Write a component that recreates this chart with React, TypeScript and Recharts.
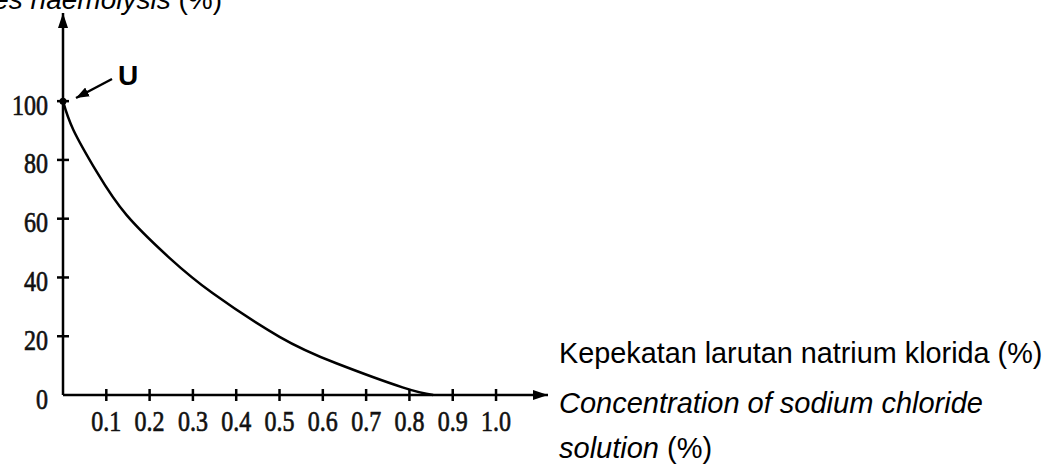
import React from "react";
import { LineChart, Line, XAxis, YAxis, ReferenceDot } from "recharts";

// values (x in %, y in %)
const concentration = [0, 0.024, 0.078, 0.147, 0.247, 0.346, 0.5, 0.631, 0.784, 0.855];
const haemolysis = [100, 90.2, 75.9, 61.2, 46.5, 34.6, 19.8, 10.8, 2.6, 0];

const xTicks = [0.1, 0.2, 0.3, 0.4, 0.5, 0.6, 0.7, 0.8, 0.9, 1.0];
const yTicks = [0, 20, 40, 60, 80, 100];

const data = concentration.map((x, i) => ({ x, y: haemolysis[i] }));

const serif = "'Liberation Serif', 'Times New Roman', serif";
const sans = "'Liberation Sans', Arial, sans-serif";

function YTick(props: any) {
  const { x, y, payload } = props;
  return (
    <g>
      {payload.value !== 0 && <line x1={x - 6} x2={x + 6} y1={y} y2={y} stroke="#000" strokeWidth={2.5} />}
      <text
        transform={`translate(${x - 15},${y + 3}) scale(0.8,1)`}
        dy="0.35em"
        textAnchor="end"
        fontSize={30}
        fontFamily={serif}
        fill="#111"
        stroke="#111"
        strokeWidth={0.7}
      >
        {payload.value}
      </text>
    </g>
  );
}

function XTick(props: any) {
  const { x, y, payload } = props;
  return (
    <g>
      <line x1={x} x2={x} y1={y - 6} y2={y + 6} stroke="#000" strokeWidth={2.5} />
      <text
        transform={`translate(${x},${y + 36}) scale(0.8,1)`}
        textAnchor="middle"
        fontSize={30}
        fontFamily={serif}
        fill="#111"
        stroke="#111"
        strokeWidth={0.7}
      >
        {payload.value.toFixed(1)}
      </text>
    </g>
  );
}

export default function App() {
  return (
    <div style={{ position: "absolute", left: 0, top: 0, width: 1051, height: 466, background: "#fff" }}>
      <svg width={0} height={0} style={{ position: "absolute" }}>
        <defs>
          <marker id="axisArrow" markerUnits="userSpaceOnUse" markerWidth={16} markerHeight={10} refX={15} refY={5} orient="auto-start-reverse">
            <path d="M0,0 L15,5 L0,10 z" fill="#000" />
          </marker>
          <marker id="uArrow" markerUnits="userSpaceOnUse" markerWidth={14} markerHeight={10} refX={13} refY={5} orient="auto">
            <path d="M0,0 L13,5 L0,10 z" fill="#000" />
          </marker>
        </defs>
      </svg>

      <LineChart width={1051} height={466} data={data} margin={{ top: 13, right: 503, bottom: 31, left: 3 }}>
        <XAxis
          type="number"
          dataKey="x"
          domain={[0, 1.12]}
          ticks={xTicks}
          height={40}
          tickSize={0}
          tickMargin={0}
          tickLine={false}
          tick={<XTick />}
          axisLine={{ stroke: "#000", strokeWidth: 2.5, markerEnd: "url(#axisArrow)" }}
        />
        <YAxis
          type="number"
          domain={[0, 130]}
          ticks={yTicks}
          width={60}
          tickSize={0}
          tickMargin={0}
          tickLine={false}
          tick={<YTick />}
          axisLine={{ stroke: "#000", strokeWidth: 2.5, markerStart: "url(#axisArrow)" }}
        />
        <Line
          type="natural"
          dataKey="y"
          stroke="#000"
          strokeWidth={2.5}
          dot={false}
          isAnimationActive={false}
        />
        <ReferenceDot x={concentration[0]} y={haemolysis[0]} r={3.5} fill="#000" stroke="none" />
      </LineChart>

      <svg width={1051} height={466} style={{ position: "absolute", left: 0, top: 0, pointerEvents: "none" }}>
        {/* y axis title, cut off at the top edge like the scan */}
        <text x={222} y={9} textAnchor="end" fontSize={28} fontFamily={sans} fill="#000">
          <tspan fontStyle="italic">Percentages haemolysis</tspan>
          <tspan> (%)</tspan>
        </text>

        {/* U label pointing to the 100 % point */}
        <text x={118} y={85} fontSize={28} fontWeight="bold" fontFamily={sans} fill="#000">U</text>
        <line x1={112} y1={79} x2={76} y2={98} stroke="#000" strokeWidth={2.5} markerEnd="url(#uArrow)" />

        {/* x axis title */}
        <text x={559} y={363} fontSize={28.8} fontFamily={sans} fill="#000">Kepekatan larutan natrium klorida (%)</text>
        <text x={559} y={413} fontSize={29} fontFamily={sans} fontStyle="italic" fill="#000">Concentration of sodium chloride</text>
        <text x={559} y={458} fontSize={29} fontFamily={sans} fill="#000">
          <tspan fontStyle="italic">solution</tspan>
          <tspan> (%)</tspan>
        </text>
      </svg>
    </div>
  );
}
